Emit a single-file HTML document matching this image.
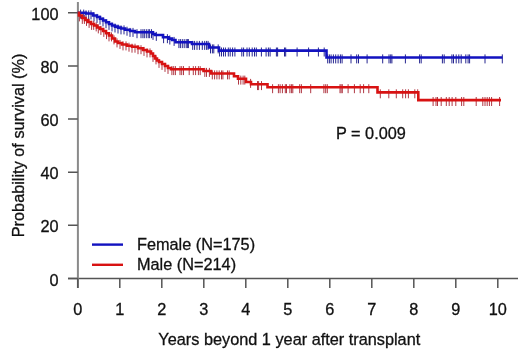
<!DOCTYPE html>
<html><head><meta charset="utf-8"><style>
html,body{margin:0;padding:0;background:#fff;width:520px;height:356px;overflow:hidden}
svg{display:block;will-change:transform}
</style></head><body>
<svg width="520" height="356" viewBox="0 0 520 356"><g stroke="#555" stroke-width="1.5" fill="none"><path d="M68,278.5H518"/><path d="M77.9,2V288" stroke="#8a8a8a" stroke-width="2"/><path d="M68,278.5H77.8M68,225.3H77.8M68,172.2H77.8M68,119.0H77.8M68,65.9H77.8M68,12.7H77.8M77.8,278.5V288M119.8,278.5V288M161.8,278.5V288M203.8,278.5V288M245.8,278.5V288M287.8,278.5V288M329.8,278.5V288M371.8,278.5V288M413.8,278.5V288M455.8,278.5V288M497.8,278.5V288"/></g><path d="M80.6,9.6V18.6M83.7,9.6V18.6M86.0,10.4V19.4M88.7,10.4V19.4M91.0,10.4V19.4M94.0,12.4V21.4M97.0,13.9V22.9M100.0,15.6V24.6M103.0,17.4V26.4M106.0,19.2V28.2M109.0,20.9V29.9M112.0,22.4V31.4M115.0,23.5V32.5M118.0,24.5V33.5M121.0,25.4V34.4M124.0,25.4V34.4M127.0,26.7V35.7M130.0,27.9V36.9M133.0,27.9V36.9M137.0,29.2V38.2M141.0,29.2V38.2M142.9,29.2V38.2M144.3,29.2V38.2M146.3,29.2V38.2M148.2,29.2V38.2M149.6,29.2V38.2M151.5,29.2V38.2M153.0,30.9V39.9M156.3,31.9V40.9M163.6,34.2V43.2M167.4,34.2V43.2M169.8,35.5V44.5M174.1,36.9V45.9M178.9,39.1V48.1M180.4,39.1V48.1M182.3,39.1V48.1M184.2,39.1V48.1M186.2,39.1V48.1M187.4,39.1V48.1M188.4,39.1V48.1M192.7,40.9V49.9M194.6,40.9V49.9M197.0,40.9V49.9M199.4,40.9V49.9M202.3,40.9V49.9M204.7,40.9V49.9M206.6,40.9V49.9M208.1,40.9V49.9M210.5,44.4V53.4M212.4,44.4V53.4M213.8,44.4V53.4M218.2,44.4V53.4M219.6,47.5V56.5M221.5,47.5V56.5M223.5,47.5V56.5M225.4,47.5V56.5M228.3,47.5V56.5M230.2,47.5V56.5M232.6,47.5V56.5M234.9,47.5V56.5M241.8,47.5V56.5M243.6,47.5V56.5M247.0,47.5V56.5M249.3,47.5V56.5M252.2,47.5V56.5M254.5,47.5V56.5M256.3,47.5V56.5M261.4,47.5V56.5M266.1,47.5V56.5M268.4,47.5V56.5M270.1,47.5V56.5M276.4,47.5V56.5M277.6,47.5V56.5M284.5,47.5V56.5M285.7,47.5V56.5M297.1,47.5V56.5M308.6,47.5V56.5M318.4,47.5V56.5M324.2,47.5V56.5M327.7,54.4V63.4M329.4,54.4V63.4M331.1,54.4V63.4M333.4,54.4V63.4M335.7,54.4V63.4M338.1,54.4V63.4M340.4,54.4V63.4M342.1,54.4V63.4M351.0,54.4V63.4M356.7,54.4V63.4M358.5,54.4V63.4M367.1,54.4V63.4M382.7,54.4V63.4M389.0,54.4V63.4M390.7,54.4V63.4M391.9,54.4V63.4M405.4,54.4V63.4M419.6,54.4V63.4M421.2,54.4V63.4M442.4,54.4V63.4M444.2,54.4V63.4M451.9,54.4V63.4M453.5,54.4V63.4M456.2,54.4V63.4M458.8,54.4V63.4M461.2,54.4V63.4M465.8,54.4V63.4M468.1,54.4V63.4M469.6,54.4V63.4M485.0,54.4V63.4M502.3,54.4V63.4" stroke="#262690" stroke-width="1" fill="none"/><path d="M79.4,12.4V21.4M82.3,14.9V23.9M84.4,14.9V23.9M86.5,16.9V25.9M89.1,18.9V27.9M91.6,20.9V29.9M93.7,20.9V29.9M96.2,22.4V31.4M98.3,24.4V33.4M100.9,25.9V34.9M103.8,27.9V36.9M106.5,30.1V39.1M109.0,32.4V41.4M111.5,32.4V41.4M114.0,35.4V44.4M117.0,38.4V47.4M120.0,39.9V48.9M123.0,41.4V50.4M126.0,41.4V50.4M129.0,42.7V51.7M132.0,43.7V52.7M135.0,43.7V52.7M138.0,45.2V54.2M141.0,45.2V54.2M144.0,46.9V55.9M147.0,48.4V57.4M150.0,48.4V57.4M153.0,52.9V61.9M156.0,55.4V64.4M159.0,58.9V67.9M162.0,60.9V69.9M165.0,62.9V71.9M168.0,64.9V73.9M171.9,66.1V75.1M173.7,66.1V75.1M175.4,66.1V75.1M180.0,66.1V75.1M181.7,66.1V75.1M183.5,66.1V75.1M189.2,66.1V75.1M193.3,66.1V75.1M195.6,66.1V75.1M198.4,66.1V75.1M200.2,66.1V75.1M204.8,67.9V76.9M206.5,67.9V76.9M209.4,67.9V76.9M212.3,70.4V79.4M214.6,70.4V79.4M216.9,70.4V79.4M219.2,70.4V79.4M221.5,70.4V79.4M222.9,70.4V79.4M227.5,70.4V79.4M229.2,70.4V79.4M238.5,75.6V84.6M240.8,75.6V84.6M243.1,75.6V84.6M244.8,75.6V84.6M250.6,78.9V87.9M257.5,81.1V90.1M258.6,81.1V90.1M261.5,81.1V90.1M272.6,84.2V93.2M278.4,84.2V93.2M280.1,84.2V93.2M282.4,84.2V93.2M285.3,84.2V93.2M286.5,84.2V93.2M289.9,84.2V93.2M291.6,84.2V93.2M292.8,84.2V93.2M299.7,84.2V93.2M301.4,84.2V93.2M310.7,84.2V93.2M323.9,84.2V93.2M325.7,84.2V93.2M327.3,84.2V93.2M340.0,84.2V93.2M341.1,84.2V93.2M342.3,84.2V93.2M348.1,84.2V93.2M354.4,84.2V93.2M360.2,84.2V93.2M363.6,84.2V93.2M368.8,84.2V93.2M380.3,89.3V98.3M388.8,89.3V98.3M396.3,89.3V98.3M402.7,89.3V98.3M405.6,89.3V98.3M408.4,89.3V98.3M414.8,89.3V98.3M417.7,89.3V98.3M433.1,97.0V106.0M436.0,97.0V106.0M437.5,97.0V106.0M441.2,97.0V106.0M446.3,97.0V106.0M449.2,97.0V106.0M452.1,97.0V106.0M455.8,97.0V106.0M461.6,97.0V106.0M463.8,97.0V106.0M476.2,97.0V106.0M482.8,97.0V106.0M485.0,97.0V106.0M487.2,97.0V106.0M489.4,97.0V106.0M491.6,97.0V106.0M499.6,97.0V106.0" stroke="#b03844" stroke-width="1" fill="none"/><path d="M77.8,12.7H86.0V13.5H93.0V15.5H97.0V17.0H100.0V18.7H103.0V20.5H106.0V22.3H109.0V24.0H112.0V25.5H115.0V26.6H118.0V27.6H121.0V28.5H125.0V29.8H130.0V31.0H135.0V32.3H153.0V34.0H155.0V35.0H163.0V37.3H168.5V38.6H172.0V40.0H175.5V42.2H192.0V44.0H209.0V47.5H219.0V50.6H326.5V57.5H502.5" stroke="#1212c0" stroke-width="2.6" fill="none"/><path d="M77.8,12.7H79.0V15.5H82.0V18.0H85.0V20.0H88.0V22.0H91.0V24.0H94.0V25.5H97.0V27.5H100.0V29.0H103.0V31.0H106.0V33.2H109.0V35.5H112.0V38.5H115.0V41.5H118.0V43.0H122.0V44.5H127.0V45.8H132.0V46.8H138.0V48.3H143.0V50.0H147.0V51.5H151.0V53.5H153.0V56.0H155.0V58.5H157.0V60.5H159.0V62.0H162.0V64.0H165.0V66.0H168.0V68.0H171.0V69.2H203.5V71.0H211.0V73.5H234.0V76.2H238.0V78.7H246.0V82.0H251.0V84.2H267.5V87.3H377.5V92.4H418.3V100.1H501.0" stroke="#d81212" stroke-width="2.6" fill="none"/><path d="M92,244.6H123" stroke="#1212c0" stroke-width="2.4"/><path d="M92,264.8H123" stroke="#d81212" stroke-width="2.4"/><g font-family="Liberation Sans, sans-serif" font-size="16.3" fill="#111" stroke="#111" stroke-width="0.3"><text x="58.5" y="285.5" text-anchor="end">0</text><text x="58.5" y="232.3" text-anchor="end">20</text><text x="58.5" y="179.2" text-anchor="end">40</text><text x="58.5" y="126.0" text-anchor="end">60</text><text x="58.5" y="72.9" text-anchor="end">80</text><text x="58.5" y="19.7" text-anchor="end">100</text><text x="77.8" y="315.4" text-anchor="middle">0</text><text x="119.8" y="315.4" text-anchor="middle">1</text><text x="161.8" y="315.4" text-anchor="middle">2</text><text x="203.8" y="315.4" text-anchor="middle">3</text><text x="245.8" y="315.4" text-anchor="middle">4</text><text x="287.8" y="315.4" text-anchor="middle">5</text><text x="329.8" y="315.4" text-anchor="middle">6</text><text x="371.8" y="315.4" text-anchor="middle">7</text><text x="413.8" y="315.4" text-anchor="middle">8</text><text x="455.8" y="315.4" text-anchor="middle">9</text><text x="497.8" y="315.4" text-anchor="middle">10</text><text x="289.3" y="345" text-anchor="middle">Years beyond 1 year after transplant</text><text transform="translate(24,145.4) rotate(-90)" text-anchor="middle">Probability of survival (%)</text><text x="137" y="250">Female (N=175)</text><text x="137" y="269.8">Male (N=214)</text><text x="336" y="138.5">P = 0.009</text></g></svg>
</body></html>
